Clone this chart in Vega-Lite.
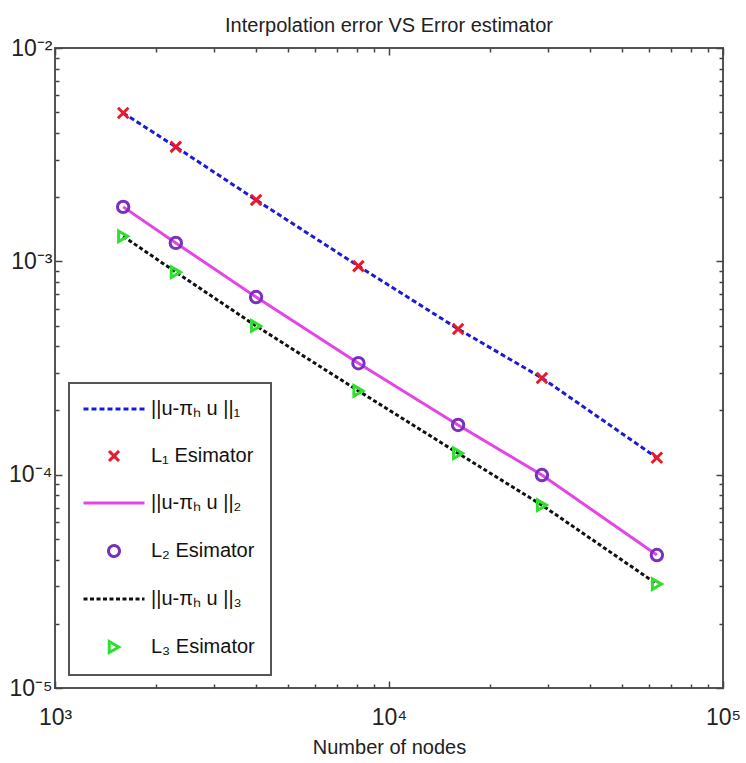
{
  "$schema": "https://vega.github.io/schema/vega-lite/v6.json",
  "autosize": "none",
  "width": 668,
  "height": 640,
  "padding": {"left": 55, "top": 48, "right": 23, "bottom": 75},
  "background": "white",
  "title": {"text": "Interpolation error VS Error estimator", "fontSize": 20, "font": "Liberation Sans Narrow, Liberation Sans", "fontWeight": "normal", "color": "#222", "offset": 1, "anchor": "middle"},
  "config": {
    "view": {"stroke": "#555", "strokeWidth": 2},
    "axis": {"domain": false, "grid": false, "tickColor": "#444", "tickWidth": 1.5, "labelFont": "Liberation Sans Narrow, Liberation Sans", "labelFontSize": 23, "labelColor": "#222", "titleFont": "Liberation Sans Narrow, Liberation Sans", "titleFontSize": 20, "titleFontWeight": "normal", "titleColor": "#222"}
  },
  "data": {"values": [
    {"n": 1600, "s": "||u-πₕ u ||₁", "v": 0.00496},
    {"n": 2300, "s": "||u-πₕ u ||₁", "v": 0.00344},
    {"n": 4000, "s": "||u-πₕ u ||₁", "v": 0.00194},
    {"n": 8100, "s": "||u-πₕ u ||₁", "v": 0.00095},
    {"n": 16100, "s": "||u-πₕ u ||₁", "v": 0.000482},
    {"n": 28700, "s": "||u-πₕ u ||₁", "v": 0.000284},
    {"n": 63400, "s": "||u-πₕ u ||₁", "v": 0.000120},
    {"n": 1600, "s": "L₁ Esimator", "v": 0.00496},
    {"n": 2300, "s": "L₁ Esimator", "v": 0.00344},
    {"n": 4000, "s": "L₁ Esimator", "v": 0.00194},
    {"n": 8100, "s": "L₁ Esimator", "v": 0.00095},
    {"n": 16100, "s": "L₁ Esimator", "v": 0.000482},
    {"n": 28700, "s": "L₁ Esimator", "v": 0.000284},
    {"n": 63400, "s": "L₁ Esimator", "v": 0.000120},
    {"n": 1600, "s": "||u-πₕ u ||₂", "v": 0.00180},
    {"n": 2300, "s": "||u-πₕ u ||₂", "v": 0.00122},
    {"n": 4000, "s": "||u-πₕ u ||₂", "v": 0.00068},
    {"n": 8100, "s": "||u-πₕ u ||₂", "v": 0.000333},
    {"n": 16100, "s": "||u-πₕ u ||₂", "v": 0.000171},
    {"n": 28700, "s": "||u-πₕ u ||₂", "v": 0.0000996},
    {"n": 63400, "s": "||u-πₕ u ||₂", "v": 0.000042},
    {"n": 1600, "s": "L₂ Esimator", "v": 0.00180},
    {"n": 2300, "s": "L₂ Esimator", "v": 0.00122},
    {"n": 4000, "s": "L₂ Esimator", "v": 0.00068},
    {"n": 8100, "s": "L₂ Esimator", "v": 0.000333},
    {"n": 16100, "s": "L₂ Esimator", "v": 0.000171},
    {"n": 28700, "s": "L₂ Esimator", "v": 0.0000996},
    {"n": 63400, "s": "L₂ Esimator", "v": 0.000042},
    {"n": 1600, "s": "||u-πₕ u ||₃", "v": 0.00131},
    {"n": 2300, "s": "||u-πₕ u ||₃", "v": 0.00089},
    {"n": 4000, "s": "||u-πₕ u ||₃", "v": 0.000498},
    {"n": 8100, "s": "||u-πₕ u ||₃", "v": 0.000247},
    {"n": 16100, "s": "||u-πₕ u ||₃", "v": 0.000126},
    {"n": 28700, "s": "||u-πₕ u ||₃", "v": 0.000072},
    {"n": 63400, "s": "||u-πₕ u ||₃", "v": 0.0000307},
    {"n": 1600, "s": "L₃ Esimator", "v": 0.00131},
    {"n": 2300, "s": "L₃ Esimator", "v": 0.00089},
    {"n": 4000, "s": "L₃ Esimator", "v": 0.000498},
    {"n": 8100, "s": "L₃ Esimator", "v": 0.000247},
    {"n": 16100, "s": "L₃ Esimator", "v": 0.000126},
    {"n": 28700, "s": "L₃ Esimator", "v": 0.000072},
    {"n": 63400, "s": "L₃ Esimator", "v": 0.0000307}
  ]},
  "resolve": {"scale": {"x": "shared", "y": "shared", "color": "shared"}, "axis": {"x": "independent", "y": "independent"}},
  "layer": [
    {
      "transform": [{"filter": {"field": "s", "equal": "||u-πₕ u ||₁"}}],
      "mark": {"type": "line", "strokeWidth": 3, "strokeDash": [5, 3]},
      "encoding": {
        "x": {"field": "n", "type": "quantitative", "scale": {"type": "log", "domain": [1000, 100000], "nice": false},
              "axis": {"orient": "bottom", "values": [1000, 10000, 100000], "tickSize": -7, "labelPadding": 25, "labelBaseline": "top", "labelFlush": false,
                       "labelExpr": "datum.value < 2000 ? '10³' : datum.value < 20000 ? '10⁴' : '10⁵'", "title": "Number of nodes", "titlePadding": 8}},
        "y": {"field": "v", "type": "quantitative", "scale": {"type": "log", "domain": [0.00001, 0.01], "nice": false},
              "axis": {"orient": "left", "values": [0.00001, 0.0001, 0.001, 0.01], "tickSize": -7, "labelPadding": 10, "labelFlush": false, "labelBaseline": "middle",
                       "labelExpr": "'10' + (datum.value < 0.00002 ? '⁻⁵' : datum.value < 0.0002 ? '⁻⁴' : datum.value < 0.002 ? '⁻³' : '⁻²')", "title": null}},
        "color": {"field": "s", "type": "nominal",
                  "scale": {"domain": ["||u-πₕ u ||₁", "L₁ Esimator", "||u-πₕ u ||₂", "L₂ Esimator", "||u-πₕ u ||₃", "L₃ Esimator"],
                            "range": ["#1a1ad8", "#e8192c", "#e645e6", "#7a2fbe", "#111111", "#2ee02e"]},
                  "legend": {"title": null, "orient": "none", "legendX": 14, "legendY": 335, "padding": 16, "fillColor": "white", "strokeColor": "#555",
                             "symbolSize": 3721, "symbolOffset": 19, "labelOffset": 27, "rowPadding": 26, "labelFont": "Liberation Sans Narrow, Liberation Sans", "labelFontSize": 20, "labelColor": "#111", "labelLimit": 300,
                             "encode": {
                               "legend": {"update": {"strokeWidth": {"value": 2}}},
                               "symbols": {"update": {
                                 "shape": {"signal": "datum.index == 1 ? 'M-1,-1L1,1M-1,1L1,-1' : datum.index == 3 ? 'circle' : datum.index == 5 ? 'triangle-right' : 'stroke'"},
                                 "size": {"signal": "datum.index % 2 == 0 ? 3721 : (datum.index == 1 ? 100 : 120)"},
                                 "strokeDash": {"signal": "datum.index == 0 ? [5, 3] : datum.index == 4 ? [4, 2.5] : [1, 0]"},
                                 "strokeWidth": {"value": 3},
                                 "fill": {"value": "transparent"},
                                 "stroke": {"signal": "scale('color', datum.value)"},
                                 "opacity": {"value": 1}
                               }}
                             }}}
      }
    },
    {
      "transform": [{"filter": {"field": "s", "equal": "||u-πₕ u ||₂"}}],
      "mark": {"type": "line", "strokeWidth": 3},
      "encoding": {
        "x": {"field": "n", "type": "quantitative", "scale": {"type": "log", "domain": [1000, 100000], "nice": false},
              "axis": {"orient": "bottom", "values": [2000, 3000, 4000, 5000, 6000, 7000, 8000, 9000, 20000, 30000, 40000, 50000, 60000, 70000, 80000, 90000], "tickSize": -4, "labels": false, "title": null}},
        "y": {"field": "v", "type": "quantitative", "scale": {"type": "log", "domain": [0.00001, 0.01], "nice": false},
              "axis": {"orient": "left", "values": [0.00002, 0.00003, 0.00004, 0.00005, 0.00006, 0.00007, 0.00008, 0.00009, 0.0002, 0.0003, 0.0004, 0.0005, 0.0006, 0.0007, 0.0008, 0.0009, 0.002, 0.003, 0.004, 0.005, 0.006, 0.007, 0.008, 0.009], "tickSize": -4, "labels": false, "title": null}},
        "color": {"field": "s", "type": "nominal",
                  "scale": {"domain": ["||u-πₕ u ||₁", "L₁ Esimator", "||u-πₕ u ||₂", "L₂ Esimator", "||u-πₕ u ||₃", "L₃ Esimator"],
                            "range": ["#1a1ad8", "#e8192c", "#e645e6", "#7a2fbe", "#111111", "#2ee02e"]}}
      }
    },
    {
      "transform": [{"filter": {"field": "s", "equal": "||u-πₕ u ||₃"}}],
      "mark": {"type": "line", "strokeWidth": 3, "strokeDash": [4, 2.5]},
      "encoding": {
        "x": {"field": "n", "type": "quantitative", "scale": {"type": "log", "domain": [1000, 100000], "nice": false},
              "axis": {"orient": "top", "values": [1000, 10000, 100000], "tickSize": -7, "labels": false, "title": null}},
        "y": {"field": "v", "type": "quantitative", "scale": {"type": "log", "domain": [0.00001, 0.01], "nice": false},
              "axis": {"orient": "right", "values": [0.00001, 0.0001, 0.001, 0.01], "tickSize": -7, "labels": false, "title": null}},
        "color": {"field": "s", "type": "nominal",
                  "scale": {"domain": ["||u-πₕ u ||₁", "L₁ Esimator", "||u-πₕ u ||₂", "L₂ Esimator", "||u-πₕ u ||₃", "L₃ Esimator"],
                            "range": ["#1a1ad8", "#e8192c", "#e645e6", "#7a2fbe", "#111111", "#2ee02e"]}}
      }
    },
    {
      "transform": [{"filter": {"field": "s", "equal": "L₁ Esimator"}}],
      "mark": {"type": "point", "shape": "M-1,-1L1,1M-1,1L1,-1", "filled": false, "strokeWidth": 3, "size": 110, "opacity": 1},
      "encoding": {
        "x": {"field": "n", "type": "quantitative", "scale": {"type": "log", "domain": [1000, 100000], "nice": false},
              "axis": {"orient": "top", "values": [2000, 3000, 4000, 5000, 6000, 7000, 8000, 9000, 20000, 30000, 40000, 50000, 60000, 70000, 80000, 90000], "tickSize": -4, "labels": false, "title": null}},
        "y": {"field": "v", "type": "quantitative", "scale": {"type": "log", "domain": [0.00001, 0.01], "nice": false},
              "axis": {"orient": "right", "values": [0.00002, 0.00003, 0.00004, 0.00005, 0.00006, 0.00007, 0.00008, 0.00009, 0.0002, 0.0003, 0.0004, 0.0005, 0.0006, 0.0007, 0.0008, 0.0009, 0.002, 0.003, 0.004, 0.005, 0.006, 0.007, 0.008, 0.009], "tickSize": -4, "labels": false, "title": null}},
        "color": {"field": "s", "type": "nominal",
                  "scale": {"domain": ["||u-πₕ u ||₁", "L₁ Esimator", "||u-πₕ u ||₂", "L₂ Esimator", "||u-πₕ u ||₃", "L₃ Esimator"],
                            "range": ["#1a1ad8", "#e8192c", "#e645e6", "#7a2fbe", "#111111", "#2ee02e"]}}
      }
    },
    {
      "transform": [{"filter": {"field": "s", "equal": "L₂ Esimator"}}],
      "mark": {"type": "point", "shape": "circle", "filled": false, "strokeWidth": 3, "size": 130, "opacity": 1},
      "encoding": {
        "x": {"field": "n", "type": "quantitative", "scale": {"type": "log", "domain": [1000, 100000], "nice": false}, "axis": null},
        "y": {"field": "v", "type": "quantitative", "scale": {"type": "log", "domain": [0.00001, 0.01], "nice": false}, "axis": null},
        "color": {"field": "s", "type": "nominal",
                  "scale": {"domain": ["||u-πₕ u ||₁", "L₁ Esimator", "||u-πₕ u ||₂", "L₂ Esimator", "||u-πₕ u ||₃", "L₃ Esimator"],
                            "range": ["#1a1ad8", "#e8192c", "#e645e6", "#7a2fbe", "#111111", "#2ee02e"]}}
      }
    },
    {
      "transform": [{"filter": {"field": "s", "equal": "L₃ Esimator"}}],
      "mark": {"type": "point", "shape": "triangle-right", "filled": false, "strokeWidth": 3, "size": 110, "opacity": 1},
      "encoding": {
        "x": {"field": "n", "type": "quantitative", "scale": {"type": "log", "domain": [1000, 100000], "nice": false}, "axis": null},
        "y": {"field": "v", "type": "quantitative", "scale": {"type": "log", "domain": [0.00001, 0.01], "nice": false}, "axis": null},
        "color": {"field": "s", "type": "nominal",
                  "scale": {"domain": ["||u-πₕ u ||₁", "L₁ Esimator", "||u-πₕ u ||₂", "L₂ Esimator", "||u-πₕ u ||₃", "L₃ Esimator"],
                            "range": ["#1a1ad8", "#e8192c", "#e645e6", "#7a2fbe", "#111111", "#2ee02e"]}}
      }
    }
  ]
}
